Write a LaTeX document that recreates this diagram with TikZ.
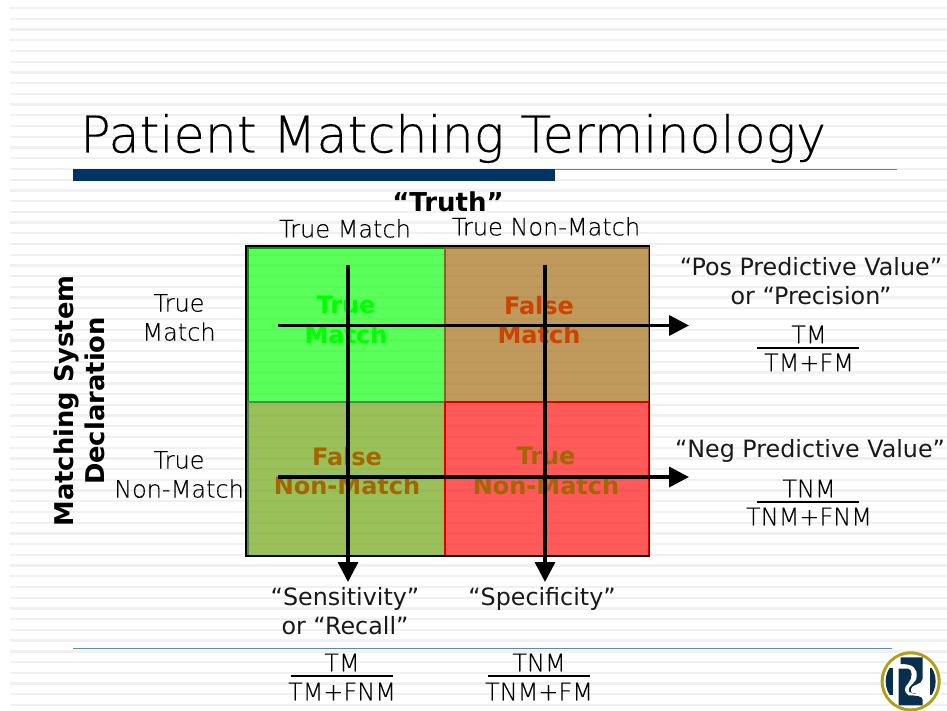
\documentclass[tikz,border=0pt]{standalone}
\usepackage{fontspec}
\setmainfont[RawFeature={embolden=0.2}]{DejaVu Sans ExtraLight}
\newfontfamily\regf{DejaVu Sans}
\newfontfamily\boldf{DejaVu Sans Bold}
\usetikzlibrary{arrows.meta}
\definecolor{navy}{RGB}{0,51,102}
\definecolor{rulec}{RGB}{100,135,175}
\definecolor{gold}{RGB}{176,160,20}
\definecolor{logoblue}{RGB}{8,48,78}
\tikzset{
  x=1pt,y=-1pt,
  lab/.style={font=\fontsize{#1}{#1}\selectfont,align=center,inner sep=0,text=black},
  lab/.default=24,
  qlab/.style={font=\regf\fontsize{#1}{#1}\selectfont,align=center,inner sep=0,text=black!90},
  qlab/.default=23.8,
  bold/.style={font=\boldf\fontsize{#1}{#1}\selectfont,align=center,inner sep=0},
  cellbox/.style={draw=#1,line width=1.6pt,inner sep=0,anchor=north west},
  axis/.style={line width=3.5pt,-{Triangle[length=20pt,width=20pt]}},
  frac/.style={line width=2.2pt}
}
\begin{document}
\begin{tikzpicture}
\useasboundingbox (0,0) rectangle (947,711);
\fill[white] (0,0) rectangle (947,711);
\foreach \i in {0,...,65}{
  \fill[black!6] (10,{7+10.72*\i}) rectangle (947,{9.3+10.72*\i});
}
\node[lab=50.7,anchor=base west] (title) at (80,152.5) {Patient Matching Terminology};
\fill[navy] (73,169) rectangle (555,181);
\draw[rulec,line width=1pt] (555,169.5) -- (897,169.5);
\draw[rulec,line width=1pt] (73,648) -- (892,648);

\node[bold=26] (truth) at (448,202) {“Truth”};
\node[lab=24] (tm) at (345,228.5) {True Match};
\node[lab=24] (tnm) at (546,226.5) {True Non-Match};
\node[bold=25.8,rotate=90,align=center] (msd) at (79,401) {Matching System\\[5pt]Declaration};
\node[lab=24] (rowa) at (179,317.5) {True\\[5pt]Match};
\node[lab=24] (rowb) at (179,474.5) {True\\[5pt]Non-Match};

\node[cellbox=green!60!black,fill={rgb,255:red,90;green,255;blue,90},minimum width=197,minimum height=154] (c11) at (247,247) {};
\node[cellbox=brown!75!black,fill={rgb,255:red,192;green,154;blue,92},minimum width=204,minimum height=154] (c12) at (444,247) {};
\node[cellbox=green!35!black!70,fill={rgb,255:red,154;green,192;blue,90},minimum width=197,minimum height=154] (c21) at (247,401) {};
\node[cellbox=red!85!black,fill={rgb,255:red,255;green,90;blue,90},minimum width=204,minimum height=154] (c22) at (444,401) {};
\begin{scope}
\clip (248,248) rectangle (647,554);
\foreach \i in {22,...,51}{
  \fill[black,opacity=.025] (240,{7+10.72*\i}) rectangle (660,{9.3+10.72*\i});
}
\end{scope}
\draw[black,line width=1.5pt] (246,246) rectangle (649.5,556);

\node[bold=24,text={rgb,255:red,0;green,255;blue,0}] (t11) at (346,320) {True\\[5.5pt]Match};
\node[bold=24,text={rgb,255:red,204;green,68;blue,0}] (t12) at (539,320) {False\\[5.5pt]Match};
\node[bold=24,text={rgb,255:red,163;green,102;blue,0}] (t21) at (347,471) {False\\[5.5pt]Non-Match};
\node[bold=24,text={rgb,255:red,163;green,102;blue,0}] (t22) at (546,471) {True\\[5.5pt]Non-Match};

\coordinate (v1a) at (348,265); \coordinate (v1b) at (348,582);
\coordinate (v2a) at (545,265); \coordinate (v2b) at (545,582);
\coordinate (h1a) at (278,325.5); \coordinate (h1b) at (689,325.5);
\coordinate (h2a) at (278,477); \coordinate (h2b) at (689,477);
\draw[axis] (v1a) -- (v1b);
\draw[axis] (v2a) -- (v2b);
\draw[axis] (h1a) -- (h1b);
\draw[axis] (h2a) -- (h2b);

\node[qlab] (ppv) at (811,281.5) {“Pos Predictive Value”\\[5pt]or “Precision”};
\node[qlab] (npv) at (810,451) {“Neg Predictive Value”};
\node[qlab] (sens) at (345,611.5) {“Sensitivity”\\[5pt]or “Recall”};
\node[qlab] (spec) at (542,599) {“Specificity”};

\node[lab] (f1a) at (809,334.5) {TM};
\draw[frac] (757,348) -- (859,348);
\node[lab] (f1b) at (809,362.5) {TM+FM};
\node[lab] (f2a) at (809,488.5) {TNM};
\draw[frac] (757,502) -- (859,502);
\node[lab] (f2b) at (809,516.5) {TNM+FNM};
\node[lab] (f3a) at (342,662.5) {TM};
\draw[frac] (291,676) -- (393,676);
\node[lab] (f3b) at (342,691.5) {TM+FNM};
\node[lab] (f4a) at (539,662.5) {TNM};
\draw[frac] (488,676) -- (590,676);
\node[lab] (f4b) at (539,691.5) {TNM+FM};

% logo
\begin{scope}[shift={(880,648)},x=0.3333pt,y=-0.3333pt]
\fill[gold] (92,100) circle (90);
\fill[white] (92,100) circle (81);
\begin{scope}
\clip (92,100) circle (75);
\fill[logoblue] (0,60) rectangle (40,140);
\fill[logoblue] (150,60) rectangle (190,140);
\end{scope}
\fill[logoblue] (62,28) -- (128,28) -- (128,92) .. controls (126,112) and (92,108) .. (92,125)
  .. controls (92,135) and (100,138) .. (110,138) -- (88,132) .. controls (80,110) and (110,110) .. (110,85)
  .. controls (112,60) and (100,48) .. (62,48) -- cycle;
\fill[logoblue] (56,62) -- (85,62) .. controls (98,65) and (98,90) .. (85,105)
  .. controls (72,118) and (70,130) .. (85,142) .. controls (110,142) and (128,145) .. (128,155)
  -- (128,172) -- (56,172) -- cycle;
\end{scope}
\end{tikzpicture}
\end{document}
